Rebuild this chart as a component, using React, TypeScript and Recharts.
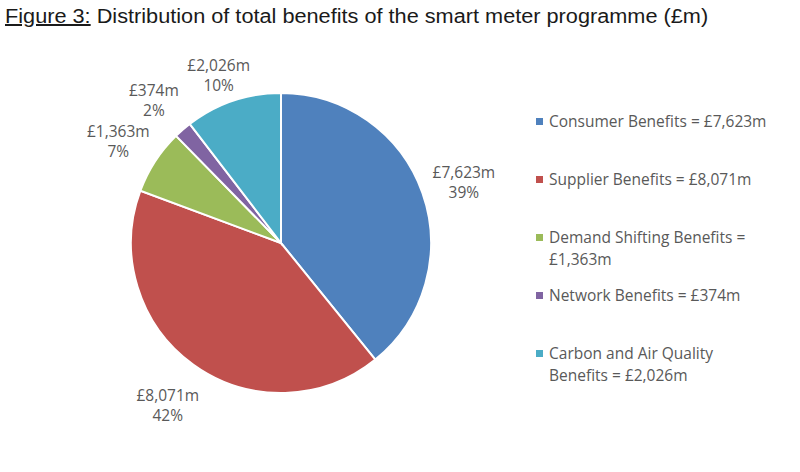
import React from "react";
import { PieChart, Pie, Cell, Legend } from "recharts";

const categories = [
  "Consumer Benefits",
  "Supplier Benefits",
  "Demand Shifting Benefits",
  "Network Benefits",
  "Carbon and Air Quality Benefits",
];
const benefits = [7623, 8071, 1363, 374, 2026]; // £m
const shareLabels = ["39%", "42%", "7%", "2%", "10%"];
const colors = ["#4F81BD", "#C0504D", "#9BBB59", "#8064A2", "#4BACC6"];

const data = categories.map((name, i) => ({
  name,
  value: benefits[i],
  share: shareLabels[i],
}));

const money = (v: number) => "£" + new Intl.NumberFormat("en-GB").format(v) + "m";

const FONT = "'Open Sans', 'Noto Sans', sans-serif";
const GREY = "#595959";
const RAD = Math.PI / 180;
const LABEL_TOP = 71; // labels can't go above the plot area, excel pushes them down

function SliceLabel(props: any) {
  const { cx, cy, midAngle, outerRadius, index } = props;
  const r = outerRadius + 44;
  const x = cx + r * Math.cos(-midAngle * RAD);
  const y = Math.max(LABEL_TOP, cy + r * Math.sin(-midAngle * RAD));
  return (
    <text x={x} y={y} textAnchor="middle" fill={GREY} fontFamily={FONT} fontSize={15.5}>
      <tspan x={x} dy={0}>{money(data[index].value)}</tspan>
      <tspan x={x} dy={20}>{data[index].share}</tspan>
    </text>
  );
}

function LegendList() {
  return (
    <ul style={{ listStyle: "none", margin: 0, padding: 0, fontFamily: FONT, fontSize: 15.5, color: GREY }}>
      {data.map((d, i) => (
        <li key={d.name} style={{ height: 58, display: "flex", alignItems: "flex-start" }}>
          <span
            style={{
              display: "inline-block",
              width: 7,
              height: 7,
              background: colors[i],
              marginTop: 8,
              marginRight: 6,
              flex: "none",
            }}
          />
          <span style={{ width: 220, lineHeight: "22px" }}>{`${d.name} = ${money(d.value)}`}</span>
        </li>
      ))}
    </ul>
  );
}

export default function App() {
  return (
    <div style={{ position: "absolute", left: 0, top: 0, width: 800, height: 472, background: "#fff" }}>
      <div
        style={{
          position: "absolute",
          left: 5,
          top: 5,
          fontFamily: "'Liberation Sans', Arial, sans-serif",
          fontSize: 20,
          color: "#1a1a1a",
          whiteSpace: "nowrap",
          transform: "scaleX(1.085)",
          transformOrigin: "left top",
        }}
      >
        <span style={{ textDecoration: "underline" }}>Figure 3:</span>
        {" Distribution of total benefits of the smart meter programme (£m)"}
      </div>
      <div style={{ position: "absolute", left: 0, top: 0 }}>
        <PieChart width={800} height={472} margin={{ top: 0, right: 0, bottom: 0, left: 0 }}>
          <Pie
            data={data}
            dataKey="value"
            nameKey="name"
            cx={281}
            cy={243}
            outerRadius={150}
            startAngle={90}
            endAngle={-270}
            stroke="#ffffff"
            strokeWidth={2}
            label={SliceLabel}
            labelLine={false}
            isAnimationActive={false}
          >
            {data.map((d, i) => (
              <Cell key={d.name} fill={colors[i]} />
            ))}
          </Pie>
          <Legend
            layout="vertical"
            content={() => <LegendList />}
            wrapperStyle={{ left: 536, top: 110, width: 260, bottom: "auto", right: "auto" }}
          />
        </PieChart>
      </div>
    </div>
  );
}
